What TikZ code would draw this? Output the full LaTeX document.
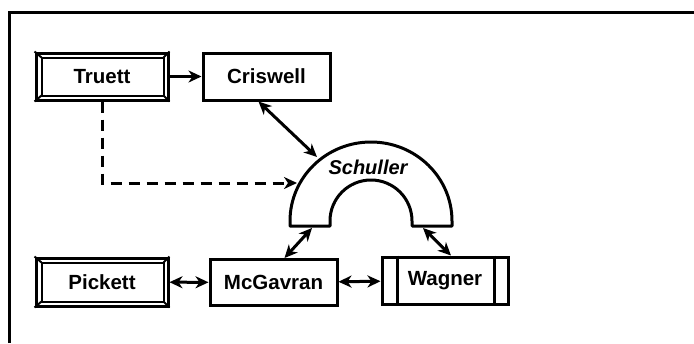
\documentclass[tikz,border=0pt]{standalone}
\usepackage{fontspec}
\setsansfont{Liberation Sans}
\usetikzlibrary{arrows.meta}
\tikzset{
  box/.style={draw,line width=3pt,inner sep=0pt,font=\sffamily\bfseries\fontsize{20.5}{24}\selectfont},
  thinline/.style={line width=2pt},
  link/.style={line width=3pt,-{Stealth[length=13pt,width=12pt,inset=4pt]}},
  twolink/.style={line width=3pt,{Stealth[length=13pt,width=12pt,inset=4pt]}-{Stealth[length=13pt,width=12pt,inset=4pt]}}
}
\begin{document}
\begin{tikzpicture}[x=1pt,y=-1pt]
\useasboundingbox (0,0) rectangle (694,343);
\draw[line width=3pt] (9,343) -- (9,12) -- (694,12);
\node[box,minimum width=132pt,minimum height=47pt] (truett) at (102,76.5) {Truett};
\node[box,minimum width=127pt,minimum height=47pt] (criswell) at (266.5,76.5) {Criswell};
\node[box,minimum width=132pt,minimum height=48pt] (pickett) at (102,282) {Pickett};
\node[box,minimum width=127pt,minimum height=46pt] (mcgavran) at (273.5,282.5) {McGavran};
\node[box,minimum width=126pt,minimum height=47pt] (wagner) at (445,280.5) {Wagner};
\foreach \n in {truett,pickett} {
  \draw[thinline] ([shift={(7pt,-6pt)}]\n.north west) rectangle ([shift={(-6pt,6pt)}]\n.south east);
  \draw[thinline] (\n.north west) -- ([shift={(7pt,-6pt)}]\n.north west);
  \draw[thinline] (\n.north east) -- ([shift={(-6pt,-6pt)}]\n.north east);
  \draw[thinline] (\n.south west) -- ([shift={(7pt,6pt)}]\n.south west);
  \draw[thinline] (\n.south east) -- ([shift={(-6pt,6pt)}]\n.south east);
}
\draw[line width=2.4pt] ([xshift=17pt]wagner.north west) -- ([xshift=17pt]wagner.south west);
\draw[line width=2.4pt] ([xshift=-15pt]wagner.north east) -- ([xshift=-15pt]wagner.south east);
\draw[line width=3pt,line join=round] (290,226) -- (290,221) arc[start angle=180,end angle=0,x radius=81pt,y radius=79pt]
  -- (452,226) -- (412,226) -- (412,221) arc[start angle=0,end angle=180,radius=41pt] -- (330,226) -- cycle;
\node[font=\sffamily\bfseries\itshape\fontsize{20}{24}\selectfont] (schuller) at (368,167) {Schuller};
\coordinate (schtop) at (317,157);
\coordinate (schside) at (297,183);
\coordinate (schleft) at (312,228);
\coordinate (schright) at (423,228);
\coordinate (bend) at (truett.south |- schside);
\draw[link] (truett) -- (criswell);
\draw[twolink] ([xshift=-8pt]criswell.south) -- (schtop);
\draw[link,dash pattern=on 11pt off 7pt] (truett.south) -- (bend) -- (schside);
\draw[twolink] (schleft) -- ([xshift=11pt]mcgavran.north);
\draw[twolink] (schright) -- ([xshift=6pt]wagner.north);
\draw[twolink] (pickett) -- (mcgavran);
\draw[twolink] (mcgavran) -- (wagner);
\end{tikzpicture}
\end{document}
